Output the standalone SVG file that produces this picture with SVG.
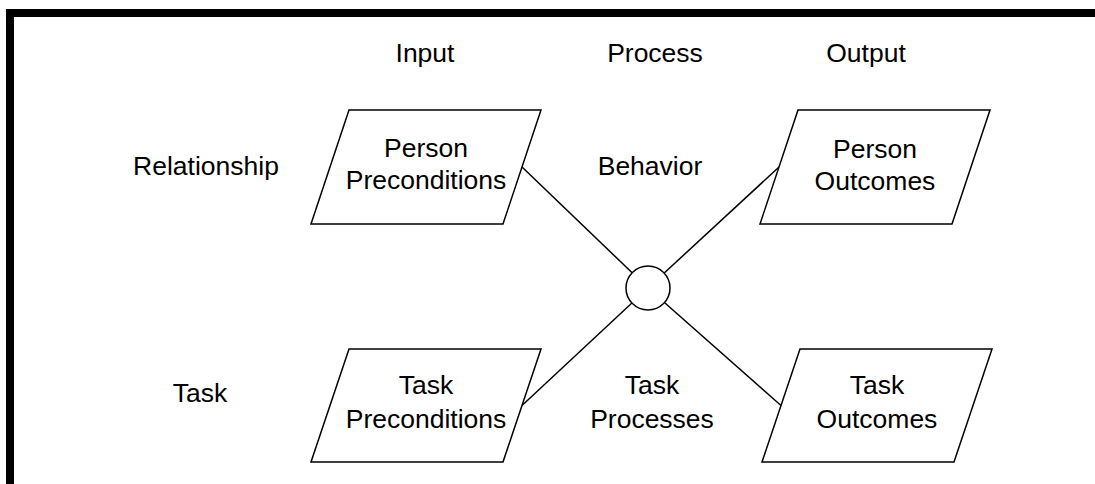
<svg xmlns="http://www.w3.org/2000/svg" width="1095" height="484" viewBox="0 0 1095 484">
<style>
.t{font-family:"Liberation Sans",Arial,sans-serif;font-size:26.5px;fill:#000;text-anchor:middle}
.shape{fill:#fff;stroke:#000;stroke-width:1.5}
.conn{stroke:#000;stroke-width:1.5;fill:none}
</style>
<rect x="0" y="0" width="1095" height="484" fill="#fff"/>
<g id="frame">
<rect x="6" y="9" width="1089" height="8" fill="#000"/>
<rect x="6" y="9" width="8" height="475" fill="#000"/>
</g>
<g id="headers">
<text class="t" x="425" y="62">Input</text>
<text class="t" x="655" y="62">Process</text>
<text class="t" x="866" y="62">Output</text>
<text class="t" x="206" y="175">Relationship</text>
<text class="t" x="200" y="402">Task</text>
</g>
<g id="connectors">
<line class="conn" x1="522" y1="167" x2="648" y2="288"/>
<line class="conn" x1="779" y1="167" x2="648" y2="288"/>
<line class="conn" x1="522" y1="405.5" x2="648" y2="288"/>
<line class="conn" x1="781" y1="405.5" x2="648" y2="288"/>
</g>
<g id="person-preconditions">
<polygon class="shape" points="349,110 541,110 503,224 311,224"/>
<text class="t" x="426" y="157">Person</text>
<text class="t" x="426" y="189">Preconditions</text>
</g>
<g id="behavior">
<text class="t" x="650" y="175">Behavior</text>
</g>
<g id="person-outcomes">
<polygon class="shape" points="798,110 990,110 952,224 760,224"/>
<text class="t" x="875" y="158">Person</text>
<text class="t" x="875" y="190">Outcomes</text>
</g>
<g id="hub">
<circle class="shape" cx="648" cy="288" r="22"/>
</g>
<g id="task-preconditions">
<polygon class="shape" points="349,349 541,349 503,462 311,462"/>
<text class="t" x="426" y="394">Task</text>
<text class="t" x="426" y="428">Preconditions</text>
</g>
<g id="task-processes">
<text class="t" x="652" y="394">Task</text>
<text class="t" x="652" y="428">Processes</text>
</g>
<g id="task-outcomes">
<polygon class="shape" points="800,349 992,349 954,462 762,462"/>
<text class="t" x="877" y="394">Task</text>
<text class="t" x="877" y="428">Outcomes</text>
</g>
</svg>
